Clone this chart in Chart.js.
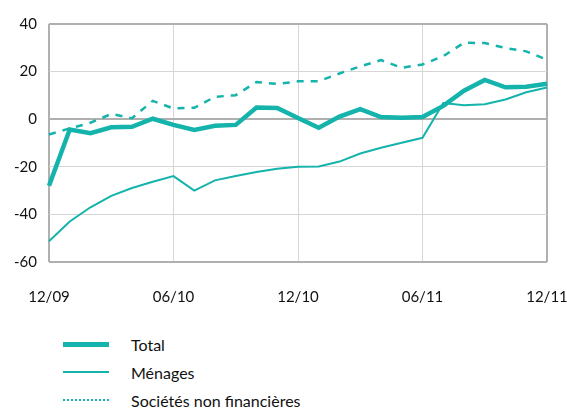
<!DOCTYPE html>
<html>
<head>
<meta charset="utf-8">
<script src="https://cdn.jsdelivr.net/npm/chart.js@4"></script>
<style>
  html, body { margin: 0; background: #fff; font-family: 'Lato', sans-serif; overflow: hidden; }
  #legend { position: absolute; left: 63px; top: 330px; }
  .item { display: flex; align-items: center; height: 28px; font-size: 16px; color: #111; }
  .swatch { width: 46px; margin-right: 22px; }
</style>
</head>
<body>
<canvas id="chart" width="567" height="320"></canvas>
<div id="legend"></div>
<script>
// monthly labels 12/09 .. 12/11
const months = ['12/09','01/10','02/10','03/10','04/10','05/10','06/10','07/10','08/10','09/10','10/10','11/10',
  '12/10','01/11','02/11','03/11','04/11','05/11','06/11','07/11','08/11','09/11','10/11','11/11','12/11'];

const total = [-28, -4.3, -5.9, -3.4, -3.2, 0.2, -2.4, -4.5, -2.8, -2.4, 4.9, 4.7,
  0.5, -3.6, 1.1, 4.2, 0.9, 0.6, 0.9, 5.6, 12.0, 16.5, 13.4, 13.6, 14.9];
const menages = [-51.3, -43.0, -37.0, -32.2, -28.9, -26.3, -23.9, -30.0, -25.7, -23.9, -22.2, -20.8,
  -20.0, -19.9, -17.8, -14.4, -12.0, -9.9, -7.8, 6.8, 5.9, 6.3, 8.3, 11.3, 13.3];
const societes = [-6.4, -3.9, -1.5, 2.2, 0.4, 7.7, 4.5, 4.8, 9.4, 10.1, 15.6, 14.8,
  15.9, 16.0, 19.2, 22.2, 24.8, 21.6, 23.0, 26.5, 32.1, 32.0, 29.9, 28.5, 25.0];

const teal = '#14b3ab';
const axisGrey = '#b0b0b0';
const gridGrey = '#d6d6d6';
const tickFont = { family: 'Lato', size: 15 };

const ctx = document.getElementById('chart').getContext('2d');
const chart = new Chart(ctx, {
  type: 'line',
  data: {
    labels: months,
    datasets: [
      { label: 'Total', data: total, borderColor: teal, borderWidth: 4.5, pointRadius: 0, tension: 0 },
      { label: 'Ménages', data: menages, borderColor: teal, borderWidth: 2, pointRadius: 0, tension: 0 },
      { label: 'Sociétés non financières', data: societes, borderColor: teal, borderWidth: 2.5,
        borderDash: [7, 7], pointRadius: 0, tension: 0 }
    ]
  },
  options: {
    responsive: false,
    animation: false,
    layout: { padding: { top: 24, right: 0, left: 0, bottom: 0 } },
    plugins: { legend: { display: false }, tooltip: { enabled: false } },
    scales: {
      x: {
        grid: {
          drawTicks: false,
          color: c => (c.index % 6 === 0 ? (c.index === 0 || c.index === 24 ? axisGrey : gridGrey) : 'transparent'),
          lineWidth: c => (c.index === 0 || c.index === 24 ? 2 : 1)
        },
        border: { display: false },
        ticks: {
          autoSkip: false, maxRotation: 0, padding: 26, color: '#111', font: tickFont,
          callback: function (v, i) { return i % 6 === 0 ? months[i] : ''; }
        },
        afterFit: s => { s.height = 58; s.paddingRight = 20; }
      },
      y: {
        min: -60, max: 40,
        grid: {
          drawTicks: false,
          color: c => ([0, 40, -60].includes(c.tick.value) ? axisGrey : gridGrey),
          lineWidth: c => ([0, 40, -60].includes(c.tick.value) ? 2 : 1)
        },
        border: { display: false },
        ticks: { stepSize: 20, padding: 12, color: '#111', font: tickFont },
        afterFit: s => { s.width = 49; }
      }
    }
  }
});

// legend below the chart, one row per series
const legend = document.getElementById('legend');
chart.data.datasets.forEach(ds => {
  const row = document.createElement('div');
  row.className = 'item';
  const sw = document.createElement('div');
  sw.className = 'swatch';
  sw.style.borderTop = ds.borderDash ? '2px dotted ' + teal : Math.round(ds.borderWidth) + 'px solid ' + teal;
  row.appendChild(sw);
  row.appendChild(document.createTextNode(ds.label));
  legend.appendChild(row);
});
</script>
</body>
</html>
